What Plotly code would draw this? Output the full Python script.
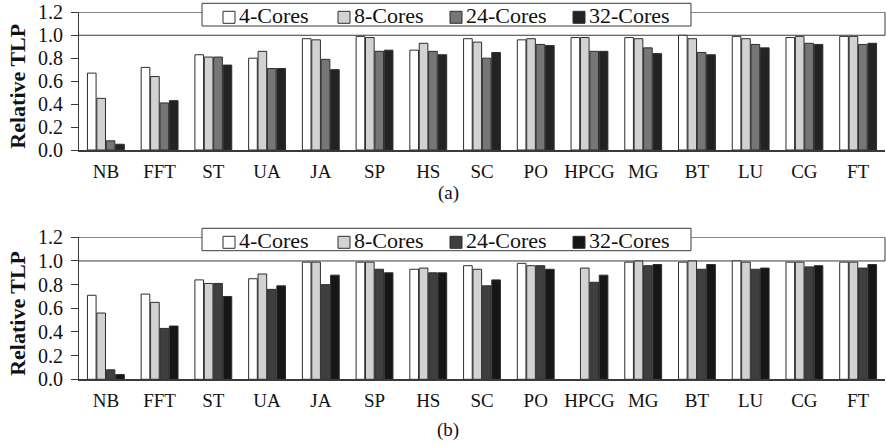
import plotly.graph_objects as go
from plotly.subplots import make_subplots

# Benchmarks on the x axis
benchmarks = ["NB", "FFT", "ST", "UA", "JA", "SP", "HS", "SC", "PO",
              "HPCG", "MG", "BT", "LU", "CG", "FT"]
series_names = ["4-Cores", "8-Cores", "24-Cores", "32-Cores"]
y_ticks = [0.0, 0.2, 0.4, 0.6, 0.8, 1.0, 1.2]

# (a) relative TLP
tlp_a_4 = [0.67, 0.72, 0.83, 0.80, 0.97, 0.99, 0.87, 0.97, 0.96, 0.98, 0.98, 1.00, 0.99, 0.98, 0.99]
tlp_a_8 = [0.45, 0.64, 0.81, 0.86, 0.96, 0.98, 0.93, 0.94, 0.97, 0.98, 0.97, 0.97, 0.97, 0.99, 0.99]
tlp_a_24 = [0.08, 0.41, 0.81, 0.71, 0.79, 0.86, 0.86, 0.80, 0.92, 0.86, 0.89, 0.85, 0.92, 0.93, 0.92]
tlp_a_32 = [0.05, 0.43, 0.74, 0.71, 0.70, 0.87, 0.83, 0.85, 0.91, 0.86, 0.84, 0.83, 0.89, 0.92, 0.93]

# (b) relative TLP (no 4-core result for HPCG)
tlp_b_4 = [0.71, 0.72, 0.84, 0.85, 0.99, 0.99, 0.93, 0.96, 0.98, None, 0.99, 0.99, 1.00, 0.99, 0.99]
tlp_b_8 = [0.56, 0.65, 0.81, 0.89, 0.99, 0.99, 0.94, 0.93, 0.96, 0.94, 1.00, 1.00, 0.99, 0.99, 0.99]
tlp_b_24 = [0.08, 0.43, 0.81, 0.76, 0.80, 0.93, 0.90, 0.79, 0.96, 0.82, 0.96, 0.93, 0.93, 0.95, 0.94]
tlp_b_32 = [0.04, 0.45, 0.70, 0.79, 0.88, 0.90, 0.90, 0.84, 0.93, 0.88, 0.97, 0.97, 0.94, 0.96, 0.97]

panels = [
    {"data": [tlp_a_4, tlp_a_8, tlp_a_24, tlp_a_32],
     "colors": ["#ffffff", "#d2d2d2", "#767676", "#232323"], "label": "(a)"},
    {"data": [tlp_b_4, tlp_b_8, tlp_b_24, tlp_b_32],
     "colors": ["#ffffff", "#d2d2d2", "#3f3f3f", "#161616"], "label": "(b)"},
]

W, H = 886, 447
SERIF = "Liberation Serif"
LINE = "#3a3a3a"


def px_x(v):
    return v / W


def px_y(v):
    return 1 - v / H


# pixel geometry of each panel: (top of 1.2, bottom at 0.0, legend box top/bottom, caption y)
geom = [
    {"top": 12.3, "bottom": 150.0, "leg_top": 3.3, "leg_bot": 26.0, "cap": 193},
    {"top": 237.3, "bottom": 379.3, "leg_top": 228.3, "leg_bot": 250.7, "cap": 430},
]
x_left, x_right = 79, 885

fig = make_subplots(rows=2, cols=1)

shapes = []
annotations = []

for i, (panel, g) in enumerate(zip(panels, geom)):
    row = i + 1
    for name, vals, col in zip(series_names, panel["data"], panel["colors"]):
        fig.add_trace(
            go.Bar(x=benchmarks, y=vals, name=name, showlegend=False,
                   marker=dict(color=col, line=dict(color="#2e2e2e", width=1))),
            row=row, col=1)

    ax = "" if i == 0 else str(row)
    xref = f"x{ax} domain"
    yref = f"y{ax}"
    # reference lines: 1.0, 1.2 frame and right edge of the upper band
    shapes.append(dict(type="line", xref=xref, yref=yref, x0=0, x1=1, y0=1.0, y1=1.0,
                       line=dict(color=LINE, width=1), layer="below"))
    shapes.append(dict(type="line", xref=xref, yref=yref, x0=0, x1=1, y0=1.2, y1=1.2,
                       line=dict(color=LINE, width=1)))
    shapes.append(dict(type="line", xref=xref, yref=yref, x0=1, x1=1, y0=1.0, y1=1.2,
                       line=dict(color=LINE, width=1)))

    # legend box
    shapes.append(dict(type="rect", xref="paper", yref="paper",
                       x0=px_x(202), x1=px_x(691), y0=px_y(g["leg_bot"]), y1=px_y(g["leg_top"]),
                       fillcolor="white", line=dict(color=LINE, width=1)))
    sym_left = [223, 338, 450, 573]
    sym_cy = g["leg_top"] + 14.0
    txt_cy = g["leg_top"] + 12.4
    for sx, name, col in zip(sym_left, series_names, panel["colors"]):
        shapes.append(dict(type="rect", xref="paper", yref="paper",
                           x0=px_x(sx), x1=px_x(sx + 12), y0=px_y(sym_cy + 6), y1=px_y(sym_cy - 6),
                           fillcolor=col, line=dict(color="#2e2e2e", width=1)))
        annotations.append(dict(text=name, xref="paper", yref="paper",
                                x=px_x(sx + 14), y=px_y(txt_cy), xanchor="left", yanchor="middle",
                                showarrow=False, font=dict(family=SERIF, size=22, color="#111")))

    # y axis title
    annotations.append(dict(text="<b>Relative TLP</b>", xref="paper", yref="paper",
                            x=px_x(17.5), y=px_y((g["top"] + g["bottom"]) / 2 + 5),
                            xanchor="center", yanchor="middle", textangle=-90, showarrow=False,
                            font=dict(family=SERIF, size=22, color="#111")))
    # panel caption
    annotations.append(dict(text=panel["label"], xref="paper", yref="paper",
                            x=px_x(448), y=px_y(g["cap"]), xanchor="center", yanchor="middle",
                            showarrow=False, font=dict(family=SERIF, size=19, color="#111")))

    fig.update_xaxes(domain=[px_x(x_left), px_x(x_right)], showline=True, linecolor=LINE,
                     linewidth=1.5, ticks="", showgrid=False, zeroline=False, automargin=False,
                     tickfont=dict(family=SERIF, size=19, color="#111"),
                     ticklabelstandoff=3, row=row, col=1)
    fig.update_yaxes(domain=[px_y(g["bottom"]), px_y(g["top"])], range=[0, 1.2],
                     tickvals=y_ticks, tickformat=".1f", ticks="outside", ticklen=7,
                     tickcolor=LINE, showline=True, linecolor=LINE, linewidth=1,
                     showgrid=False, zeroline=False, automargin=False,
                     tickfont=dict(family=SERIF, size=20, color="#111"),
                     ticklabelstandoff=4, row=row, col=1)

fig.update_layout(
    width=W, height=H,
    margin=dict(l=0, r=0, t=0, b=0, autoexpand=False),
    paper_bgcolor="white", plot_bgcolor="white",
    barmode="group", bargap=0.3, bargroupgap=0.08,
    shapes=shapes, annotations=annotations,
    showlegend=False,
)

# the page body gets no default margin, so the figure fills the window edge to edge;
# the statement runs as soon as the plot script does, not after the draw promise
fig.write_html(
    "out.html",
    post_script="});document.body.style.margin='0';document.body.style.padding='0';(function(){",
)
